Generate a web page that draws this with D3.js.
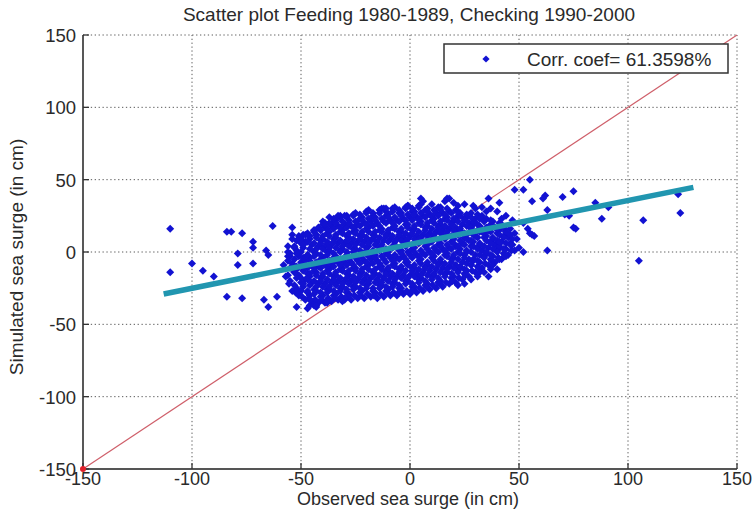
<!DOCTYPE html>
<html>
<head>
<meta charset="utf-8">
<script src="https://cdn.jsdelivr.net/npm/d3@7"></script>
<style>
  html, body { margin: 0; padding: 0; background: #fff; }
  svg { display: block; }
  text { font-family: "Liberation Sans", Arial, sans-serif; fill: #2a2a2a; }
</style>
</head>
<body>
<svg id="chart" width="752" height="517"></svg>
<script>
// ---------------- DATA ----------------
const titleText = "Scatter plot Feeding 1980-1989, Checking 1990-2000";
const xLabelText = "Observed sea surge (in cm)";
const yLabelText = "Simulated sea surge (in cm)";
const legendText = "Corr. coef= 61.3598%";

const xTicks = [-150, -100, -50, 0, 50, 100, 150];
const yTicks = [-150, -100, -50, 0, 50, 100, 150];

// identity line y = x (observed = simulated)
const identityX = [-150, 150];
// fitted regression line end points (observed, simulated)
const fitObserved = [-113, 130];
const fitSimulated = [-29, 44.7];

// dense core of the scatter: [observed, simulated]
const corePoints = [
  [-57,-17],[-58,-9],[-56,-3],
  [-54,-27],[-55,-20],[-53,-14],[-54,-8],[-55,-3],[-53,3],[-54,9],
  [-51,-30],[-52,-25],[-50,-21],[-51,-16],[-52,-12],[-50,-7],[-51,-3],[-52,1],[-50,6],[-51,11],
  [-48,-33],[-47,-28],[-49,-24],[-48,-19],[-47,-15],[-49,-11],[-48,-6],[-47,-2],[-49,3],[-48,7],[-47,13],
  [-45,-34],[-46,-30],[-44,-26],[-45,-21],[-46,-17],[-44,-13],[-45,-9],[-46,-4],[-44,0],[-45,5],[-46,9],[-44,14],
  [-42,-35],[-41,-31],[-43,-27],[-42,-22],[-41,-18],[-43,-14],[-42,-10],[-41,-5],[-43,-1],[-42,4],[-41,8],[-43,12],[-42,17],
  [-39,-35],[-40,-30],[-38,-26],[-39,-22],[-40,-17],[-38,-13],[-39,-9],[-40,-4],[-38,0],[-39,4],[-40,9],[-38,13],[-39,17],[-40,21],
  [-36,-34],[-35,-30],[-37,-26],[-36,-21],[-35,-17],[-37,-12],[-36,-8],[-35,-4],[-37,1],[-36,5],[-35,9],[-37,14],[-36,18],[-35,21],[-37,24],
  [-33,-33],[-34,-29],[-32,-25],[-33,-20],[-34,-16],[-32,-12],[-33,-7],[-34,-3],[-32,1],[-33,6],[-34,10],[-32,14],[-33,18],[-34,22],[-32,25],
  [-30,-33],[-29,-28],[-31,-24],[-30,-20],[-29,-15],[-31,-11],[-30,-7],[-29,-2],[-31,2],[-30,6],[-29,11],[-31,15],[-30,19],[-29,24],
  [-27,-33],[-28,-29],[-26,-24],[-27,-20],[-28,-16],[-26,-11],[-27,-7],[-28,-3],[-26,2],[-27,6],[-28,10],[-26,14],[-27,18],[-28,22],[-26,26],
  [-24,-32],[-23,-28],[-25,-24],[-24,-19],[-23,-15],[-25,-11],[-24,-6],[-23,-2],[-25,2],[-24,7],[-23,11],[-25,15],[-24,19],[-23,23],[-25,27],
  [-21,-32],[-22,-27],[-20,-23],[-21,-19],[-22,-14],[-20,-10],[-21,-6],[-22,-1],[-20,3],[-21,7],[-22,12],[-20,16],[-21,20],[-22,24],[-20,28],
  [-18,-31],[-17,-27],[-19,-22],[-18,-18],[-17,-14],[-19,-9],[-18,-5],[-17,-1],[-19,4],[-18,8],[-17,12],[-19,17],[-18,21],[-17,25],[-19,29],
  [-15,-32],[-16,-28],[-14,-23],[-15,-19],[-16,-15],[-14,-10],[-15,-6],[-16,-2],[-14,3],[-15,7],[-16,11],[-14,15],[-15,20],[-16,24],[-14,29],
  [-12,-31],[-11,-27],[-13,-23],[-12,-18],[-11,-14],[-13,-10],[-12,-5],[-11,-1],[-13,3],[-12,8],[-11,12],[-13,16],[-12,21],[-11,25],[-13,30],
  [-9,-30],[-10,-26],[-8,-22],[-9,-17],[-10,-13],[-8,-9],[-9,-4],[-10,0],[-8,4],[-9,9],[-10,13],[-8,17],[-9,22],[-10,26],[-8,30],
  [-6,-30],[-5,-25],[-7,-21],[-6,-17],[-5,-12],[-7,-8],[-6,-4],[-5,1],[-7,5],[-6,9],[-5,14],[-7,18],[-6,22],[-5,27],[-7,31],
  [-3,-29],[-4,-25],[-2,-20],[-3,-16],[-4,-12],[-2,-7],[-3,-3],[-4,1],[-2,6],[-3,10],[-4,14],[-2,19],[-3,23],[-4,27],[-2,31],
  [0,-29],[1,-24],[-1,-20],[0,-16],[1,-11],[-1,-7],[0,-2],[1,2],[-1,6],[0,11],[1,15],[-1,19],[0,24],[1,28],[-1,32],
  [3,-28],[2,-24],[4,-19],[3,-15],[2,-11],[4,-6],[3,-2],[2,3],[4,7],[3,11],[2,16],[4,20],[3,24],[2,28],[4,32],
  [6,-27],[7,-23],[5,-18],[6,-14],[7,-10],[5,-5],[6,-1],[7,4],[5,8],[6,12],[7,17],[5,21],[6,25],[7,29],[5,33],
  [9,-26],[8,-22],[10,-17],[9,-13],[8,-9],[10,-4],[9,0],[8,5],[10,9],[9,13],[8,18],[10,22],[9,26],[8,30],
  [12,-25],[13,-21],[11,-16],[12,-12],[13,-8],[11,-3],[12,1],[13,5],[11,10],[12,14],[13,18],[11,23],[12,27],[13,31],
  [15,-24],[14,-20],[16,-15],[15,-11],[14,-7],[16,-2],[15,2],[14,6],[16,11],[15,15],[14,19],[16,23],[15,27],[14,31],
  [18,-22],[19,-18],[17,-14],[18,-10],[19,-5],[17,-1],[18,3],[19,7],[17,12],[18,16],[19,20],[17,24],[18,28],
  [21,-21],[20,-17],[22,-13],[21,-9],[20,-4],[22,0],[21,4],[20,9],[22,13],[21,17],[20,21],[22,25],[21,29],
  [24,-19],[25,-15],[23,-11],[24,-7],[25,-2],[23,2],[24,6],[25,10],[23,15],[24,19],[25,23],[23,27],
  [27,-17],[26,-13],[28,-9],[27,-5],[26,0],[28,4],[27,8],[26,12],[28,16],[27,20],[26,24],[28,27],
  [30,-14],[31,-10],[29,-6],[30,-2],[31,3],[29,7],[30,11],[31,15],[29,19],[30,23],[31,26],
  [33,-11],[32,-7],[34,-3],[33,1],[32,5],[34,10],[33,14],[32,18],[34,22],[33,25],
  [36,-9],[37,-5],[35,-1],[36,3],[37,7],[35,11],[36,15],[37,19],[35,23],
  [39,-7],[38,-3],[40,1],[39,5],[38,9],[40,13],[39,17],[38,21],
  [42,-5],[43,-1],[41,3],[42,7],[43,11],[41,15],[42,19],
  [45,-2],[44,2],[46,6],[45,10],[44,14],[46,16],
  [48,1],[47,5],[49,9],[48,13]
];

// more points of the dense core, between the columns above
const coreFillPoints = [
  [-55.5,-22],[-56,-16],[-55,-11],[-56,-6],[-55,-1],[-56,4],
  [-52.5,-28],[-53,-23],[-52,-18],[-53,-14],[-52,-10],[-53,-5],[-52,-1],[-53,4],[-52,8],
  [-49.5,-31],[-50,-27],[-49,-22],[-50,-18],[-49,-13],[-50,-9],[-49,-4],[-50,0],[-49,5],[-50,9],[-49,12],
  [-46.5,-32],[-47,-27],[-46,-23],[-47,-19],[-46,-15],[-47,-11],[-46,-6],[-47,-2],[-46,2],[-47,7],[-46,11],
  [-43.5,-33],[-44,-29],[-43,-24],[-44,-20],[-43,-16],[-44,-11],[-43,-7],[-44,-3],[-43,2],[-44,6],[-43,10],[-44,15],
  [-40.5,-33],[-41,-28],[-40,-24],[-41,-20],[-40,-15],[-41,-11],[-40,-7],[-41,-2],[-40,2],[-41,6],[-40,11],[-41,15],[-40,19],
  [-37.5,-32],[-38,-28],[-37,-24],[-38,-19],[-37,-15],[-38,-10],[-37,-6],[-38,-2],[-37,3],[-38,7],[-37,11],[-38,16],[-37,20],
  [-34.5,-32],[-35,-27],[-34,-23],[-35,-19],[-34,-14],[-35,-10],[-34,-6],[-35,-1],[-34,3],[-35,7],[-34,12],[-35,16],[-34,20],[-35,23],
  [-31.5,-31],[-32,-27],[-31,-22],[-32,-18],[-31,-13],[-32,-9],[-31,-5],[-32,0],[-31,4],[-32,8],[-31,13],[-32,17],[-31,21],[-32,24],
  [-28.5,-31],[-29,-26],[-28,-22],[-29,-18],[-28,-13],[-29,-9],[-28,-5],[-29,0],[-28,4],[-29,8],[-28,13],[-29,17],[-28,20],[-29,25],
  [-25.5,-30],[-26,-26],[-25,-21],[-26,-17],[-25,-13],[-26,-9],[-25,-4],[-26,0],[-25,5],[-26,9],[-25,13],[-26,17],[-25,21],[-26,25],
  [-22.5,-30],[-23,-25],[-22,-21],[-23,-17],[-22,-12],[-23,-8],[-22,-4],[-23,1],[-22,5],[-23,9],[-22,14],[-23,18],[-22,22],[-23,26],
  [-19.5,-29],[-20,-25],[-19,-20],[-20,-16],[-19,-12],[-20,-7],[-19,-3],[-20,1],[-19,6],[-20,10],[-19,14],[-20,19],[-19,23],[-20,27],
  [-16.5,-30],[-17,-25],[-16,-21],[-17,-17],[-16,-12],[-17,-8],[-16,-4],[-17,1],[-16,5],[-17,9],[-16,14],[-17,18],[-16,22],[-17,27],
  [-13.5,-29],[-14,-25],[-13,-21],[-14,-16],[-13,-12],[-14,-8],[-13,-3],[-14,1],[-13,5],[-14,10],[-13,14],[-14,18],[-13,23],[-14,27],
  [-10.5,-28],[-11,-24],[-10,-20],[-11,-15],[-10,-11],[-11,-7],[-10,-2],[-11,2],[-10,7],[-11,11],[-10,15],[-11,20],[-10,24],[-11,28],
  [-7.5,-28],[-8,-24],[-7,-19],[-8,-15],[-7,-10],[-8,-6],[-7,-2],[-8,3],[-7,7],[-8,11],[-7,16],[-8,20],[-7,24],[-8,28],
  [-4.5,-27],[-5,-23],[-4,-18],[-5,-14],[-4,-10],[-5,-5],[-4,-1],[-5,3],[-4,8],[-5,12],[-4,16],[-5,21],[-4,25],[-5,29],
  [-1.5,-27],[-2,-22],[-1,-18],[-2,-13],[-1,-9],[-2,-5],[-1,0],[-2,4],[-1,9],[-2,13],[-1,17],[-2,22],[-1,26],[-2,30],
  [1.5,-26],[1,-22],[2,-17],[1,-13],[2,-9],[1,-4],[2,0],[1,5],[2,9],[1,13],[2,18],[1,22],[2,26],[1,30],
  [4.5,-25],[4,-21],[5,-16],[4,-12],[5,-8],[4,-3],[5,1],[4,6],[5,10],[4,14],[5,19],[4,23],[5,27],[4,31],
  [7.5,-24],[7,-20],[8,-16],[7,-11],[8,-7],[7,-2],[8,2],[7,7],[8,11],[7,15],[8,20],[7,24],[8,28],
  [10.5,-23],[10,-19],[11,-15],[10,-10],[11,-6],[10,-1],[11,3],[10,7],[11,12],[10,16],[11,20],[10,25],[11,29],
  [13.5,-22],[13,-18],[14,-14],[13,-9],[14,-5],[13,0],[14,4],[13,8],[14,13],[13,17],[14,21],[13,25],[14,29],
  [16.5,-21],[16,-17],[17,-12],[16,-8],[17,-3],[16,1],[17,5],[16,9],[17,14],[16,18],[17,22],[16,26],[17,30],
  [19.5,-20],[19,-15],[20,-11],[19,-7],[20,-2],[19,2],[20,6],[19,11],[20,15],[19,19],[20,23],[19,27],
  [22.5,-18],[22,-14],[23,-10],[22,-5],[23,-1],[22,4],[23,8],[22,12],[23,16],[22,21],[23,25],[22,28],
  [25.5,-16],[25,-12],[26,-8],[25,-4],[26,1],[25,5],[26,9],[25,13],[26,18],[25,22],[26,26],
  [28.5,-13],[28,-9],[29,-5],[28,0],[29,4],[28,8],[29,12],[28,17],[29,21],[28,24],
  [31.5,-11],[31,-6],[32,-2],[31,2],[32,6],[31,10],[32,14],[31,19],[32,23],
  [34.5,-8],[34,-4],[35,0],[34,4],[35,8],[34,13],[35,17],[34,21],
  [37.5,-6],[37,-2],[38,2],[37,6],[38,10],[37,14],[38,18],[37,22],
  [40.5,-4],[40,0],[41,4],[40,8],[41,12],[40,16],[41,20],
  [43.5,-2],[43,2],[44,6],[43,10],[44,14],[43,17],
  [46.5,1],[46,5],[47,9],[46,12]
];

// scattered / outlying points: [observed, simulated]
const outerPoints = [
  [-110,16],[-110,-14],[-100,-8],[-95,-13],[-90,-17],[-84,14],[-82,14],[-77,13],
  [-84,-31],[-77,-32],[-79,-1],[-79,-9],[-72,7],[-72,3],[-72,-8],[-67,-33],[-65,-38],
  [-63,18],[-66,1],[-65,-2],[-61,-31],[-56,0],[-54,17],[-54,12],[-52,-38],[-47,12],
  [-44,15],[-43,12],[-47,-39],[-43,-38],[-49,5],[-39,20],[-33,25],[-30,25],[-12,30],
  [6,35],[10,33],[17,37],[18,37],[36,37],[41,34],[55,50],[48,43],[52,43],[62,39],[61,37],
  [70,38],[75,42],[85,34],[91,31],[88,23],[75,17],[76,16],[63,29],[63,1],[50,3],[52,0],
  [41,-5],[44,-3],[107,22],[105,-6],[123,40],[124,27],[73,25],[71,26],[55,13],[57,11],
  [52,20],[22,-23],[56,35],[32,-14],[26,-13],[41,7],[56,12],[54,16],[-46,-37],[-44,-37],
  [-38,-35],[-30,-32],[1,-27],[13,-21],[-48,12],[-39,19],[-11,30],[-1,32],[5,37],
  [-46,-33],[-43,-37],[-38,-34],[-31,-34],[-5,-28],
  [16,35],[20,34],[25,33],[29,32],[33,31],[37,30],[40,28],[44,25],[47,22],[35,28],[30,30],
  [42,23],[22,32],[28,-19],[31,-17],[34,-14],[37,-12],[25,-22],[38,-9],[36,-17],[40,-12]
];

// ---------------- CHART ----------------
const svg = d3.select("#chart");
const x = d3.scaleLinear().domain([-150, 150]).range([83, 737]);
const y = d3.scaleLinear().domain([-150, 150]).range([469, 35]);

// grid
const grid = svg.append("g");
grid.selectAll(".gx").data(xTicks.filter(d => d !== -150)).enter().append("line")
  .attr("x1", d => x(d)).attr("x2", d => x(d))
  .attr("y1", y(-150)).attr("y2", y(150))
  .attr("stroke", "#5a5a5a").attr("stroke-width", 1).attr("stroke-dasharray", "1.3,2.6");
grid.selectAll(".gy").data(yTicks.filter(d => d !== -150)).enter().append("line")
  .attr("x1", x(-150)).attr("x2", x(150))
  .attr("y1", d => y(d)).attr("y2", d => y(d))
  .attr("stroke", "#5a5a5a").attr("stroke-width", 1).attr("stroke-dasharray", "1.3,2.6");

// identity line
svg.append("line")
  .attr("x1", x(identityX[0])).attr("y1", y(identityX[0]))
  .attr("x2", x(identityX[1])).attr("y2", y(identityX[1]))
  .attr("stroke", "#cf5f6a").attr("stroke-width", 1.2);

// scatter
const diamond = "M0,-4L4,0L0,4L-4,0Z";
svg.append("g").selectAll("path").data(corePoints.concat(coreFillPoints, outerPoints)).enter().append("path")
  .attr("d", diamond)
  .attr("transform", d => `translate(${x(d[0])},${y(d[1])})`)
  .attr("fill", "#1212d2");

// regression line
svg.append("line")
  .attr("x1", x(fitObserved[0])).attr("y1", y(fitSimulated[0]))
  .attr("x2", x(fitObserved[1])).attr("y2", y(fitSimulated[1]))
  .attr("stroke", "#2196b0").attr("stroke-width", 5.5);

// axes (left & bottom, inward ticks)
const axes = svg.append("g");
axes.append("line").attr("x1", x(-150)).attr("x2", x(-150)).attr("y1", y(150)).attr("y2", y(-150))
  .attr("stroke", "#2e2e2e").attr("stroke-width", 1.6);
axes.append("line").attr("x1", x(-150)).attr("x2", x(150)).attr("y1", y(-150)).attr("y2", y(-150))
  .attr("stroke", "#555").attr("stroke-width", 2);
axes.selectAll(".tx").data(xTicks).enter().append("line")
  .attr("x1", d => x(d)).attr("x2", d => x(d)).attr("y1", y(-150)).attr("y2", y(-150) - 6)
  .attr("stroke", "#333").attr("stroke-width", 1.3);
axes.selectAll(".ty").data(yTicks).enter().append("line")
  .attr("x1", x(-150)).attr("x2", x(-150) + 6).attr("y1", d => y(d)).attr("y2", d => y(d))
  .attr("stroke", "#333").attr("stroke-width", 1.3);

// red dot at the start of the identity line
svg.append("circle").attr("cx", x(identityX[0])).attr("cy", y(identityX[0])).attr("r", 3)
  .attr("fill", "#e0202a");

// tick labels
svg.append("g").selectAll("text").data(xTicks).enter().append("text")
  .attr("x", d => x(d)).attr("y", 485)
  .attr("text-anchor", "middle").attr("font-size", 18)
  .text(d => d);
svg.append("g").selectAll("text").data(yTicks).enter().append("text")
  .attr("x", 76).attr("y", d => y(d) + 7)
  .attr("text-anchor", "end").attr("font-size", 18.5)
  .text(d => d);

// title and axis labels
svg.append("text").attr("x", 409).attr("y", 21).attr("text-anchor", "middle")
  .attr("font-size", 19).text(titleText);
svg.append("text").attr("x", 408).attr("y", 505).attr("text-anchor", "middle")
  .attr("font-size", 18).text(xLabelText);
svg.append("text").attr("transform", "translate(23,257) rotate(-90)").attr("text-anchor", "middle")
  .attr("font-size", 19).text(yLabelText);

// legend
const lg = svg.append("g");
lg.append("rect").attr("x", 444).attr("y", 44).attr("width", 284).attr("height", 29)
  .attr("fill", "#fff").attr("stroke", "#333").attr("stroke-width", 1.5);
lg.append("path").attr("d", "M0,-3.6L3.6,0L0,3.6L-3.6,0Z").attr("transform", "translate(486,59)").attr("fill", "#1212d2");
lg.append("text").attr("x", 527).attr("y", 66).attr("font-size", 19).text(legendText);
</script>
</body>
</html>
